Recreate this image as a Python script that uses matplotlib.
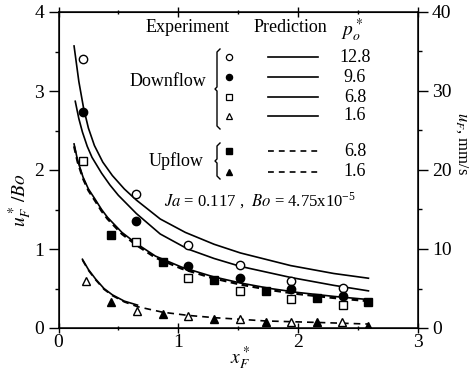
import matplotlib
matplotlib.use('Agg')
import matplotlib.pyplot as plt
from matplotlib.lines import Line2D
from matplotlib.ticker import MultipleLocator

plt.rcParams['font.family'] = ['Liberation Serif', 'DejaVu Serif']
plt.rcParams['mathtext.fontset'] = 'stix'

# experiment, downflow
x_exp = [0.205, 0.65, 1.08, 1.52, 1.94, 2.38]
down_128 = [3.41, 1.70, 1.05, 0.80, 0.60, 0.51]
down_96 = [2.74, 1.36, 0.79, 0.63, 0.49, 0.41]
down_68 = [2.12, 1.09, 0.63, 0.47, 0.37, 0.29]
x_tri_open = [0.23, 0.655, 1.08, 1.52, 1.94, 2.37]
down_16 = [0.60, 0.21, 0.15, 0.12, 0.07, 0.08]

# experiment, upflow
x_up = [0.44, 0.87, 1.30, 1.73, 2.16, 2.59]
up_68 = [1.18, 0.83, 0.61, 0.47, 0.38, 0.33]
up_16 = [0.33, 0.18, 0.12, 0.08, 0.08, 0.03]

# predictions
xa = [0.13, 0.17, 0.21, 0.25, 0.30, 0.37, 0.45, 0.55, 0.65, 0.85, 1.06, 1.30, 1.52, 1.94, 2.30, 2.59]
pred_128 = [3.57, 3.12, 2.78, 2.53, 2.31, 2.10, 1.93, 1.76, 1.62, 1.38, 1.21, 1.06, 0.95, 0.79, 0.69, 0.63]
xb = [0.14, 0.17, 0.20, 0.24, 0.28, 0.36, 0.43, 0.50, 0.65, 0.85, 1.08, 1.30, 1.52, 1.94, 2.30, 2.59]
pred_96 = [2.87, 2.65, 2.48, 2.30, 2.16, 1.96, 1.81, 1.68, 1.45, 1.19, 1.00, 0.88, 0.78, 0.64, 0.54, 0.47]
xc = [0.13, 0.16, 0.205, 0.25, 0.31, 0.36, 0.41, 0.53, 0.65, 0.81, 1.03, 1.29, 1.52, 1.77, 2.00, 2.30, 2.59]
pred_68 = [2.33, 2.12, 1.91, 1.76, 1.62, 1.50, 1.40, 1.21, 1.07, 0.91, 0.77, 0.65, 0.57, 0.50, 0.45, 0.40, 0.36]
pred_68_up = [2.30, 2.10, 1.89, 1.74, 1.60, 1.48, 1.38, 1.19, 1.05, 0.89, 0.75, 0.63, 0.55, 0.48, 0.43, 0.38, 0.34]
xd = [0.20, 0.25, 0.31, 0.38, 0.45, 0.55, 0.66]
pred_16 = [0.87, 0.74, 0.62, 0.50, 0.42, 0.34, 0.29]
xd_up = [0.20, 0.25, 0.31, 0.38, 0.45, 0.55, 0.66, 0.87, 1.08, 1.31, 1.52, 1.72, 1.94, 2.17, 2.38, 2.59]
pred_16_up = [0.86, 0.73, 0.61, 0.49, 0.41, 0.33, 0.27, 0.20, 0.16, 0.13, 0.11, 0.09, 0.08, 0.07, 0.06, 0.05]

legend_p = ['12.8', '9.6', '6.8', '1.6']
legend_p_up = ['6.8', '1.6']

W, H = 469, 371
fig = plt.figure(figsize=(W / 100, H / 100), dpi=100)
ax = fig.add_axes([58.5 / W, 1 - 328 / H, 359 / W, 316 / H])

lw = 1.2
ax.plot(xa, pred_128, 'k-', lw=lw)
ax.plot(xb, pred_96, 'k-', lw=lw)
ax.plot(xc, pred_68, 'k-', lw=lw)
ax.plot(xc, pred_68_up, 'k', ls=(0, (3, 2)), lw=1.6)
ax.plot(xd, pred_16, 'k-', lw=lw)
ax.plot(xd_up, pred_16_up, 'k', ls=(0, (4, 3)), lw=1.2)

ms = 6
ax.plot(x_exp, down_128, 'o', mfc='white', mec='k', ms=ms, mew=1)
ax.plot(x_exp, down_96, 'o', mfc='k', mec='k', ms=ms)
ax.plot(x_exp, down_68, 's', mfc='white', mec='k', ms=ms - 0.5, mew=1)
ax.plot(x_tri_open, down_16, '^', mfc='white', mec='k', ms=ms, mew=1)
ax.plot(x_up, up_68, 's', mfc='k', mec='k', ms=ms - 0.5)
ax.plot(x_up, up_16, '^', mfc='k', mec='k', ms=ms)

ax.set_xlim(0, 3)
ax.set_ylim(0, 4)
ax.xaxis.set_major_locator(MultipleLocator(1))
ax.xaxis.set_minor_locator(MultipleLocator(0.5))
ax.yaxis.set_major_locator(MultipleLocator(1))
ax.yaxis.set_minor_locator(MultipleLocator(0.5))
ax.tick_params(which='both', direction='out', labelsize=14, width=1)
ax.tick_params(which='major', length=7)
ax.tick_params(which='minor', length=3)
ax.tick_params(axis='x', which='both', top=True, labeltop=False, pad=1)
ax.tick_params(axis='x', which='both', direction='inout')
for s in ax.spines.values():
    s.set_linewidth(1.1)

ax2 = ax.twinx()
ax2.set_ylim(0, 40)
ax2.yaxis.set_major_locator(MultipleLocator(10))
ax2.yaxis.set_minor_locator(MultipleLocator(5))
ax2.tick_params(which='both', direction='out', labelsize=14, width=1)
ax2.tick_params(which='major', length=7)
ax2.tick_params(which='minor', length=3)


def fx(px):
    return px / W


def fy(py):
    return 1 - py / H


# axis titles placed in figure pixels
fig.text(fx(240), fy(358), r'$x_F^*$', fontsize=14, ha='center', va='center')
fig.text(fx(20), fy(200), r'$u_F^*\,/Bo$', fontsize=14, ha='center', va='center',
         rotation=90)
fig.text(fx(462), fy(143), r'$u_F$, mm/s', fontsize=12, ha='center', va='center',
         rotation=270)

# legend block drawn in figure pixels
fs = 13
fig.text(fx(188), fy(28), 'Experiment', fontsize=fs, ha='center', va='center')
fig.text(fx(290), fy(28), 'Prediction', fontsize=fs, ha='center', va='center')
fig.text(fx(352), fy(30), r'$p_o^*$', fontsize=fs + 1, ha='center', va='center')

rows = [57, 77, 97, 116]
styles = [('o', 'white'), ('o', 'k'), ('s', 'white'), ('^', 'white')]
for py, (m, fc), lab in zip(rows, styles, legend_p):
    fig.add_artist(Line2D([fx(229)], [fy(py)], marker=m, mfc=fc, mec='k',
                          ms=4.5, mew=0.9, transform=fig.transFigure))
    fig.add_artist(Line2D([fx(268), fx(318)], [fy(py), fy(py)], color='k',
                          lw=1.2, transform=fig.transFigure))
    fig.text(fx(355), fy(py), lab, fontsize=fs, ha='center', va='center')

rows_up = [151, 172]
styles_up = [('s', 'k'), ('^', 'k')]
for py, (m, fc), lab in zip(rows_up, styles_up, legend_p_up):
    fig.add_artist(Line2D([fx(229)], [fy(py)], marker=m, mfc=fc, mec='k',
                          ms=4.5, transform=fig.transFigure))
    fig.add_artist(Line2D([fx(268), fx(318)], [fy(py), fy(py)], color='k',
                          lw=1.2, ls=(0, (3.5, 3)), transform=fig.transFigure))
    fig.text(fx(355), fy(py), lab, fontsize=fs, ha='center', va='center')

fig.text(fx(168), fy(82), 'Downflow', fontsize=fs, ha='center', va='center')
fig.text(fx(176), fy(161), 'Upflow', fontsize=fs, ha='center', va='center')


def brace(x, top, bot):
    mid = (top + bot) / 2
    xs = [x + 3, x, x, x - 2, x, x, x + 3]
    ys = [top, top + 3, mid - 2, mid, mid + 2, bot - 3, bot]
    fig.add_artist(Line2D([fx(v) for v in xs], [fy(v) for v in ys], color='k',
                          lw=1.0, transform=fig.transFigure))


brace(217, 49, 129)
brace(217, 143, 179)

fig.text(fx(164), fy(201), r'$Ja$ = 0.117 ,  $Bo$ = 4.75x10$^{\mathregular{-5}}$',
         fontsize=12, ha='left', va='center')

fig.savefig('out.png', dpi=100)
